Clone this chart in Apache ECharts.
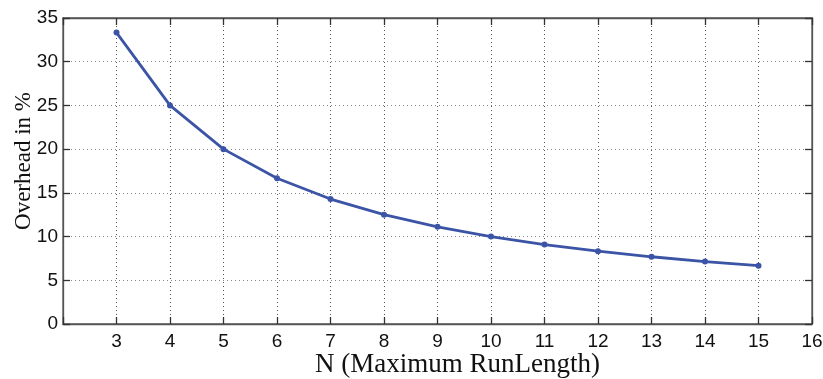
<!DOCTYPE html>
<html>
<head>
<meta charset="utf-8">
<script src="https://cdn.jsdelivr.net/npm/echarts@6/dist/echarts.min.js"></script>
<style>
  html, body { margin: 0; padding: 0; background: #fff; }
  #main { width: 823px; height: 379px; }
</style>
</head>
<body>
<div id="main"></div>
<script>
// N (maximum run length) and overhead in percent
var runLength = [3, 4, 5, 6, 7, 8, 9, 10, 11, 12, 13, 14, 15];
var overhead = [33.33, 25.0, 20.0, 16.67, 14.29, 12.5, 11.11, 10.0, 9.09, 8.33, 7.69, 7.14, 6.67];

var points = [];
for (var i = 0; i < runLength.length; i++) {
  points.push([runLength[i], overhead[i]]);
}

var myChart = echarts.init(document.getElementById('main'));

var axisLine = { show: true, onZero: false, lineStyle: { color: '#555', width: 1.3 } };
var tick = { show: true, inside: true, length: 7, lineStyle: { color: '#333', width: 1.3 } };

var option = {
  backgroundColor: '#fff',
  animation: false,
  grid: {
    left: 63, right: 11, top: 18, bottom: 55,
    outerBoundsMode: 'none',
    show: true, borderColor: '#555', borderWidth: 1.3
  },
  xAxis: [{
    type: 'value',
    min: 2,
    max: 16,
    interval: 1,
    axisLine: axisLine,
    axisTick: tick,
    axisLabel: {
      color: '#111', fontSize: 19, fontFamily: 'Liberation Sans', margin: 8,
      formatter: function (v) { return v === 2 ? '' : v; }
    },
    splitLine: { show: true, lineStyle: { color: '#555', type: [1, 3], width: 1 } },
    name: 'N (Maximum RunLength)',
    nameLocation: 'middle',
    nameGap: 27,
    nameMoveOverlap: false,
    nameTextStyle: { color: '#111', fontSize: 27, fontFamily: 'Liberation Serif', padding: [0, 0, 0, 40] }
  }, {
    type: 'value',
    position: 'top',
    min: 2,
    max: 16,
    interval: 1,
    axisLine: axisLine,
    axisTick: tick,
    axisLabel: { show: false },
    splitLine: { show: false }
  }],
  yAxis: [{
    type: 'value',
    min: 0,
    max: 35,
    interval: 5,
    axisLine: axisLine,
    axisTick: tick,
    axisLabel: { color: '#111', fontSize: 19, fontFamily: 'Liberation Sans', margin: 5 },
    splitLine: { show: true, lineStyle: { color: '#888', type: [1, 3], width: 1 } },
    name: 'Overhead in %',
    nameLocation: 'middle',
    nameGap: 28,
    nameMoveOverlap: false,
    nameTextStyle: { color: '#111', fontSize: 23, fontFamily: 'Liberation Serif', padding: [0, 0, 0, 20] }
  }, {
    type: 'value',
    position: 'right',
    min: 0,
    max: 35,
    interval: 5,
    axisLine: axisLine,
    axisTick: tick,
    axisLabel: { show: false },
    splitLine: { show: false }
  }],
  series: [{
    type: 'line',
    data: points,
    symbol: 'circle',
    symbolSize: 6,
    itemStyle: { color: '#3b54a6' },
    lineStyle: { color: '#3b54a6', width: 2.8 }
  }]
};

myChart.setOption(option);
</script>
</body>
</html>
